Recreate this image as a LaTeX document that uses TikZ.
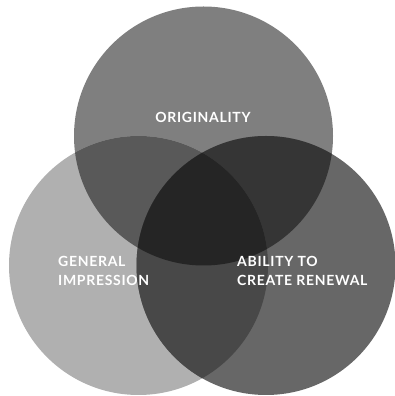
\documentclass[tikz,border=0pt]{standalone}
\usepackage{fontspec}
\setmainfont{Lato}[LetterSpace=5]
\definecolor{topgray}{HTML}{7F7F7F}
\definecolor{leftgray}{HTML}{B0B0B0}
\definecolor{rightgray}{HTML}{676767}
\definecolor{tlgray}{HTML}{595959}
\definecolor{trgray}{HTML}{353535}
\definecolor{lrgray}{HTML}{484848}
\definecolor{allgray}{HTML}{252525}
\begin{document}
\begin{tikzpicture}[x=1pt, y=1pt,
    label text/.style={text=white, inner sep=0pt, align=left,
      font=\bfseries\fontsize{14}{19}\selectfont}]
    \useasboundingbox (0,0) rectangle (395,396);
    \def\rad{129.5}
    \coordinate (top) at (203.5,260);
    \coordinate (left) at (138.5,130.5);
    \coordinate (right) at (266,130.5);
    % single circles
    \fill[topgray] (top) circle (\rad);
    \fill[leftgray] (left) circle (\rad);
    \fill[rightgray] (right) circle (\rad);
    % overlaps
    \begin{scope}
      \clip (top) circle (\rad);
      \fill[tlgray] (left) circle (\rad);
      \fill[trgray] (right) circle (\rad);
    \end{scope}
    \begin{scope}
      \clip (left) circle (\rad);
      \fill[lrgray] (right) circle (\rad);
      \clip (top) circle (\rad);
      \fill[allgray] (right) circle (\rad);
    \end{scope}
    \node [label text] (originality) at (203,279) {ORIGINALITY};
    \node [label text, anchor=west] (impression) at (58,125) {GENERAL\\IMPRESSION};
    \node [label text, anchor=west] (renewal) at (237,125) {ABILITY TO\\CREATE RENEWAL};
  \end{tikzpicture}
\end{document}
